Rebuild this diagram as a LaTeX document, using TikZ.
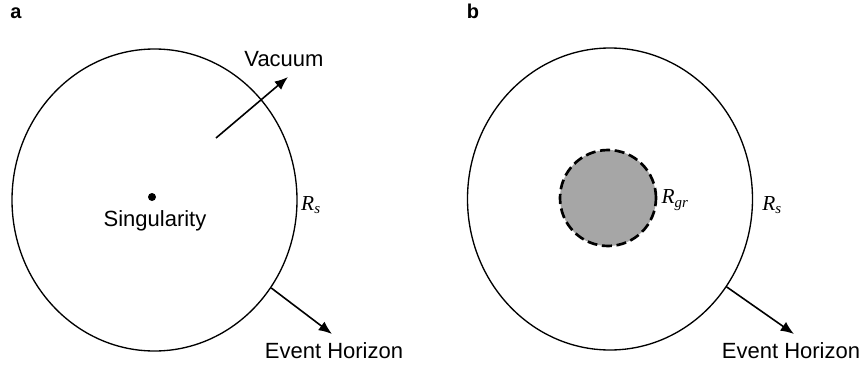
\documentclass[tikz,border=0pt]{standalone}
\usepackage{fontspec}
\setmainfont{Liberation Sans}
\newfontfamily\rfont{Liberation Serif}
\usetikzlibrary{arrows.meta,positioning,shapes.geometric}
\definecolor{hGrey}{HTML}{A6A6A6}
\newcommand{\rsym}[1]{{\rfont\itshape R\textsubscript{#1}}}
\tikzset{
  hor/.style  = {draw, ellipse, line width=1pt, inner sep=0pt,
                 minimum width=285*0.75pt, minimum height=302*0.75pt},
  core/.style = {draw, circle, fill=hGrey, line width=2pt, inner sep=0pt,
                 dash pattern=on 7.5pt off 3.5pt, minimum size=96*0.75pt},
  ar/.style   = {-{Latex[length=10pt,width=8pt]}, line width=1.2pt},
  lbl/.style  = {font=\fontsize{16.5}{19}\selectfont, inner sep=0pt},
  rlbl/.style = {font=\fontsize{16}{19}\selectfont, inner sep=0pt},
  pan/.style  = {font=\fontsize{15}{18}\selectfont\bfseries, inner sep=0pt},
}
\begin{document}
\begin{tikzpicture}[x=0.75pt, y=-0.75pt]
  \useasboundingbox (0,0) rectangle (865,368);
  % panel a
  \node[pan] (pa) at (16,13) {a};
  \node[hor] (horA) at (154.5,200) {};
  \node[circle, fill, inner sep=0pt, minimum size=8*0.75pt] (sing) at (152,197) {};
  \node[lbl] (singt) at (155,221) {Singularity};
  \node[rlbl] (rsA) at (311,205) {\rsym{s}};
  \node[lbl] (vac) at (284,59) {Vacuum};
  \coordinate (vacS) at (216,138);
  \coordinate (vacE) at (288,77);
  \draw[ar] (vacS) -- (vacE);
  \node[lbl] (evA) at (334,351) {Event Horizon};
  \coordinate (evAE) at (332,334);
  \draw[ar] (horA.-37) -- (evAE);
  % panel b
  \node[pan] (pb) at (473,11) {b};
  \node[hor] (horB) at (610,199) {};
  \node[core] (gr) at (608,198) {};
  \node[rlbl] (rgr) at (675,200) {\rsym{gr}};
  \node[rlbl] (rsB) at (772,205) {\rsym{s}};
  \node[lbl] (evB) at (791,351) {Event Horizon};
  \coordinate (evBE) at (794,334);
  \draw[ar] (horB.-37) -- (evBE);
\end{tikzpicture}
\end{document}
